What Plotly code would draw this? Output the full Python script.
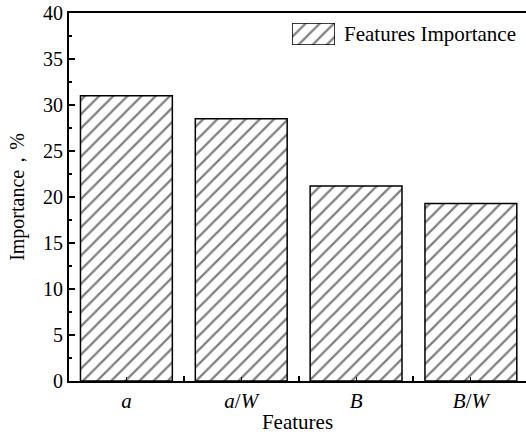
import plotly.graph_objects as go

# Feature importance values (%)
features = ["a", "a/W", "B", "B/W"]
feature_labels = ["<i>a</i>", "<i>a</i>/<i>W</i>", "<i>B</i>", "<i>B</i>/<i>W</i>"]
importance = [31.0, 28.5, 21.2, 19.3]
y_ticks = [0, 5, 10, 15, 20, 25, 30, 35, 40]
legend_label = "Features Importance"

FONT = "Liberation Serif"
positions = list(range(len(features)))
hatch = dict(shape="/", size=10, solidity=0.22, fgcolor="black", bgcolor="white")

fig = go.Figure()
fig.add_trace(go.Bar(
    x=positions,
    y=importance,
    width=0.8,
    name=legend_label,
    marker=dict(color="white", line=dict(color="black", width=1.5), pattern=hatch),
    showlegend=False,
))

# Legend key: a single hatched swatch in a small inset axis, with its label beside it
fig.add_trace(go.Bar(
    x=[0], y=[1], width=1,
    xaxis="x2", yaxis="y2",
    marker=dict(color="white", line=dict(color="black", width=1.5), pattern=hatch),
    showlegend=False, hoverinfo="skip",
))
fig.add_annotation(
    text=legend_label, xref="paper", yref="paper", x=0.597, y=0.943,
    xanchor="left", yanchor="middle", showarrow=False,
    font=dict(family=FONT, size=21, color="black"),
)

fig.update_layout(
    width=526,
    height=435,
    margin=dict(l=69, r=0, t=13, b=54),
    paper_bgcolor="white",
    plot_bgcolor="white",
    font=dict(family=FONT, color="black", size=20),
    showlegend=False,
    xaxis=dict(
        range=[-0.5, 3.48],
        tickvals=positions,
        ticktext=feature_labels,
        ticks="inside",
        ticklen=4,
        tickwidth=1,
        tickcolor="black",
        minor=dict(tickvals=[0.5, 1.5, 2.5], ticks="inside", ticklen=5, tickwidth=1.5, tickcolor="black"),
        showline=True,
        linecolor="black",
        linewidth=2,
        mirror=True,
        showgrid=False,
        zeroline=False,
        tickfont=dict(family=FONT, size=21, color="black"),
        title=dict(text="Features", font=dict(family=FONT, size=21, color="black"), standoff=2),
    ),
    yaxis=dict(
        range=[0, 40],
        tickvals=y_ticks,
        ticks="inside",
        ticklen=6,
        tickwidth=1.5,
        tickcolor="black",
        minor=dict(dtick=2.5, tick0=0, ticks="inside", ticklen=3, tickwidth=1.5, tickcolor="black"),
        showline=True,
        linecolor="black",
        linewidth=2,
        mirror=False,
        showgrid=False,
        zeroline=False,
        tickfont=dict(family=FONT, size=20, color="black"),
        title=dict(text="Importance，%", font=dict(family=FONT, size=20, color="black"), standoff=13),
    ),
    xaxis2=dict(domain=[0.488, 0.582], range=[-0.5, 0.5], anchor="y2", visible=False, fixedrange=True),
    yaxis2=dict(domain=[0.913, 0.973], range=[0, 1], anchor="x2", visible=False, fixedrange=True),
)

fig.write_html("out.html")
